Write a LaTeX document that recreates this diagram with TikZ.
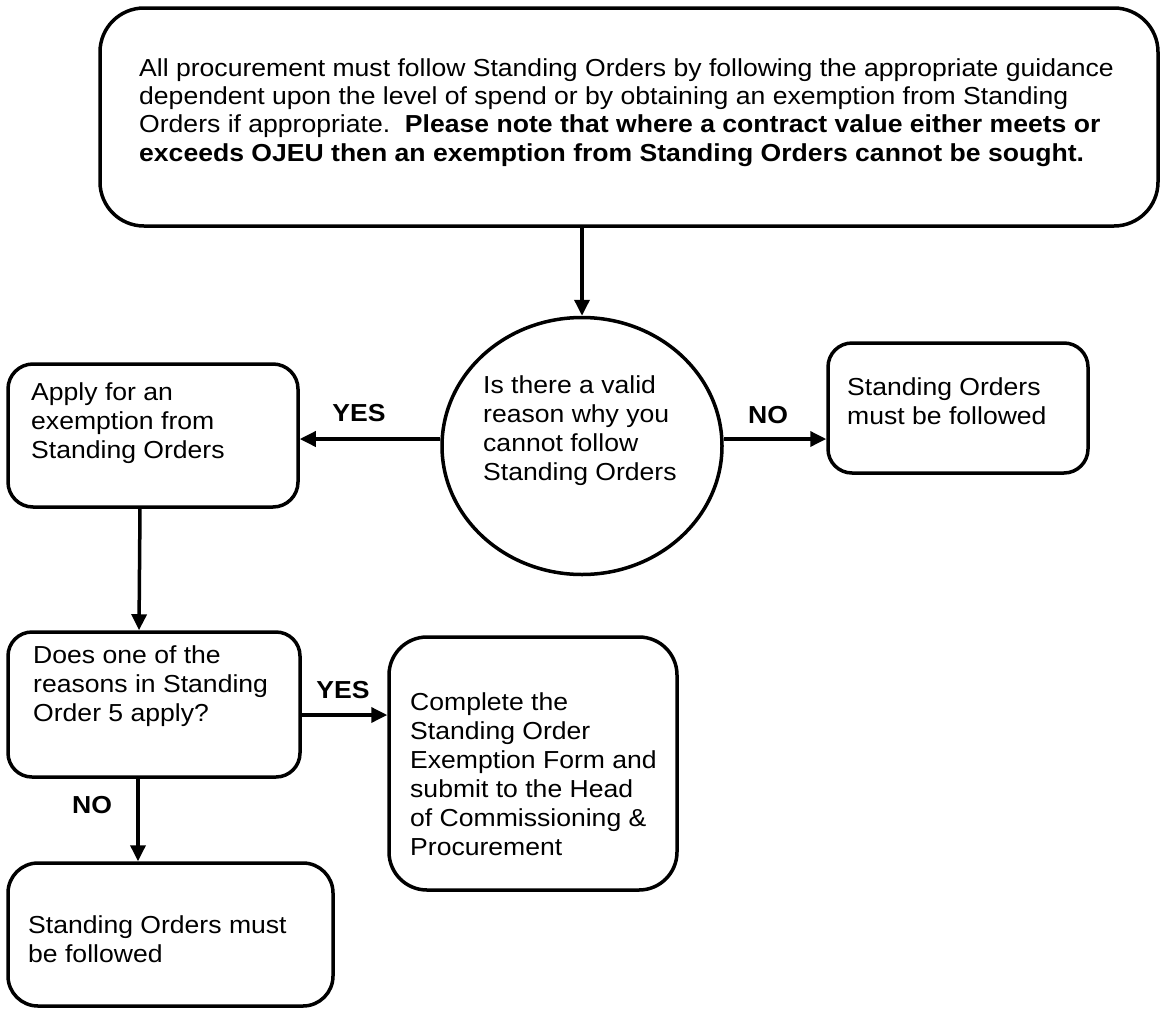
\documentclass[tikz,border=0pt]{standalone}
\usepackage{fontspec}
\setmainfont{Liberation Sans}[FakeStretch=1.08]
\usetikzlibrary{arrows.meta,shapes.geometric}
\newcommand\fs{\fontsize{24.6}{29}\selectfont}
\newcommand\fstop{\fontsize{24.6}{28.4}\selectfont}
\begin{document}
\begin{tikzpicture}[x=1pt,y=-1pt,
  box/.style={draw, line width=3.5pt, inner sep=0pt},
  txt/.style={anchor=north west, align=left, inner sep=0pt, font=\fs},
  lbl/.style={inner sep=0pt, font=\fs\bfseries},
  arr/.style={line width=3.5pt, -{Triangle[length=16pt,width=15pt]}}]
\useasboundingbox (0,0) rectangle (1160,1010);
% boxes
\node[box, rounded corners=44pt, minimum width=1058pt, minimum height=218pt] (top) at (629,117) {};
\node[box, ellipse, minimum width=280pt, minimum height=257pt] (circ) at (582,446) {};
\node[box, rounded corners=25pt, minimum width=290pt, minimum height=143pt] (apply) at (153,435.5) {};
\node[box, rounded corners=24pt, minimum width=260pt, minimum height=130pt] (right) at (958,408) {};
\node[box, rounded corners=24pt, minimum width=292pt, minimum height=145pt] (box2) at (154,704.5) {};
\node[box, rounded corners=38pt, minimum width=288pt, minimum height=253pt] (box3) at (533,763.5) {};
\node[box, rounded corners=30pt, minimum width=325pt, minimum height=143pt] (box4) at (170.5,934.5) {};
% texts
\node[txt, font=\fstop] (ttop) at (139,58) {All procurement must follow Standing Orders by following the appropriate guidance\\
dependent upon the level of spend or by obtaining an exemption from Standing\\
Orders if appropriate.\ \ \textbf{Please note that where a contract value either meets or}\\
\textbf{exceeds OJEU then an exemption from Standing Orders cannot be sought.}};
\node[txt] (tcirc) at (483,375) {Is there a valid\\reason why you\\cannot follow\\Standing Orders};
\node[txt] (tright) at (847,377) {Standing Orders\\must be followed};
\node[txt] (tapply) at (31,382) {Apply for an\\exemption from\\Standing Orders};
\node[txt] (tbox2) at (33,645) {Does one of the\\reasons in Standing\\Order 5 apply?};
\node[txt] (tbox3) at (410,692) {Complete the\\Standing Order\\Exemption Form and\\submit to the Head\\of Commissioning \&\\Procurement};
\node[txt] (tbox4) at (28,915) {Standing Orders must\\be followed};
% labels
\node[lbl] (yes1) at (359,413) {YES};
\node[lbl] (no1) at (768,415) {NO};
\node[lbl] (yes2) at (343,690) {YES};
\node[lbl] (no2) at (92,805) {NO};
% connector end points
\coordinate (cw) at ([yshift=7pt]circ.west);
\coordinate (ce) at ([yshift=7pt]circ.east);
\coordinate (b2e) at ([yshift=-10.5pt]box2.east);
% connectors
\draw[arr] (circ.north |- top.south) -- (circ.north);
\draw[arr] (cw) -- (apply.east |- cw);
\draw[arr] (ce) -- (right.west |- ce);
\draw[arr] ([xshift=-13pt]apply.south) -- ([xshift=-15pt]box2.north);
\draw[arr] (b2e) -- (box3.west |- b2e);
\draw[arr] ([xshift=-16pt]box2.south) -- ([xshift=-32.5pt]box4.north);
\end{tikzpicture}
\end{document}
